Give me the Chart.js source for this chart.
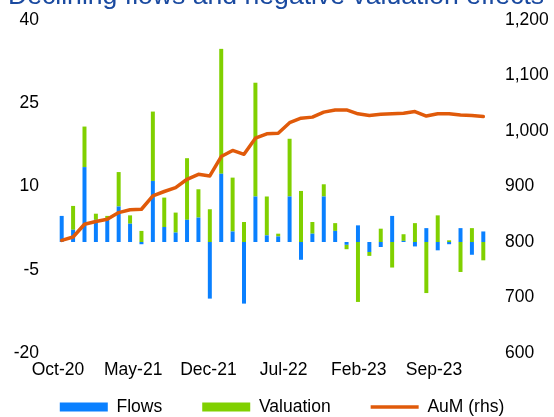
<!DOCTYPE html>
<html>
<head>
<meta charset="utf-8">
<script src="https://cdn.jsdelivr.net/npm/chart.js@4/dist/chart.umd.min.js"></script>
<style>
  html, body { margin: 0; padding: 0; background: #ffffff; }
  #wrap { position: relative; width: 554px; height: 417px; overflow: hidden; }
</style>
</head>
<body>
<div id="wrap"><canvas id="c"></canvas></div>
<script>
const chartTitle = "Declining flows and negative valuation effects";

const months = [
  "Oct-20","Nov-20","Dec-20","Jan-21","Feb-21","Mar-21","Apr-21","May-21","Jun-21","Jul-21",
  "Aug-21","Sep-21","Oct-21","Nov-21","Dec-21","Jan-22","Feb-22","Mar-22","Apr-22","May-22",
  "Jun-22","Jul-22","Aug-22","Sep-22","Oct-22","Nov-22","Dec-22","Jan-23","Feb-23","Mar-23",
  "Apr-23","May-23","Jun-23","Jul-23","Aug-23","Sep-23","Oct-23","Nov-23"
];

const flows = [
  4.7, 2.2, 13.5, 4.0, 4.0, 6.4, 3.3, -0.4, 11.0, 2.7,
  1.7, 4.0, 4.4, -10.2, 12.3, 1.9, -11.1, 8.2, 1.2, 1.0,
  8.2, -3.2, 1.5, 8.2, 2.0, -0.5, 3.0, -1.8, -0.9, 4.7,
  0.2, -0.8, 2.5, -1.5, -0.4, 2.5, -2.3, 1.9
];

const valuation = [
  0.0, 4.3, 7.3, 1.1, 0.7, 6.2, 1.5, 2.0, 12.5, 5.3,
  3.6, 11.1, 5.1, 5.9, 22.5, 9.7, 3.6, 20.5, 7.0, 0.5,
  10.4, 9.2, 2.1, 2.2, 1.4, -0.8, -10.8, -0.7, 2.4, -4.6,
  1.2, 3.4, -9.2, 4.8, 0.3, -5.4, 2.5, -3.3
];

const aum = [
  803, 809, 832, 837, 841, 853, 858, 859, 883, 891,
  898, 913, 922, 919, 954, 965, 958, 987, 995, 996,
  1015, 1023, 1025, 1034, 1038, 1038, 1031, 1028, 1030, 1031,
  1032, 1035, 1027, 1031, 1031, 1029, 1028, 1026
];

const xTickLabels = ["Oct-20", "May-21", "Dec-21", "Jul-22", "Feb-23", "Sep-23"];
const seriesNames = ["Flows", "Valuation", "AuM (rhs)"];

const FONT = "'Liberation Sans', Arial, sans-serif";
const FS = 17.5;

const titlePlugin = {
  id: 'cutTitle',
  afterDraw(chart) {
    const ctx = chart.ctx;
    ctx.save();
    ctx.font = "26.6px " + FONT;
    ctx.fillStyle = "#1a4aa0";
    ctx.textAlign = "left";
    ctx.textBaseline = "alphabetic";
    ctx.fillText(chartTitle, 8, 4);
    ctx.restore();
  }
};

function noPad(axis) {
  axis.paddingTop = 0;
  axis.paddingBottom = 0;
  axis.paddingLeft = 0;
  axis.paddingRight = 0;
}

new Chart(document.getElementById('c'), {
  type: 'bar',
  data: {
    labels: months,
    datasets: [
      {
        label: seriesNames[0],
        data: flows,
        backgroundColor: '#0a80ff',
        borderWidth: 0,
        xAxisID: 'x', yAxisID: 'y',
        barPercentage: 0.35, categoryPercentage: 1.0,
        pointStyle: 'rect',
        order: 1
      },
      {
        label: seriesNames[1],
        data: valuation,
        backgroundColor: '#80d000',
        borderWidth: 0,
        xAxisID: 'x', yAxisID: 'y',
        barPercentage: 0.35, categoryPercentage: 1.0,
        pointStyle: 'rect',
        order: 1
      },
      {
        type: 'line',
        label: seriesNames[2],
        data: aum,
        borderColor: '#e05a0a',
        backgroundColor: '#e05a0a',
        borderWidth: 3.5,
        borderCapStyle: 'round',
        borderJoinStyle: 'round',
        tension: 0,
        pointRadius: 0,
        pointHoverRadius: 0,
        pointStyle: 'line',
        xAxisID: 'x', yAxisID: 'y2',
        order: 0
      }
    ]
  },
  options: {
    responsive: true,
    maintainAspectRatio: false,
    animation: false,
    layout: { padding: { left: 10, right: 0, top: 20, bottom: -8.75 } },
    plugins: {
      title: { display: false },
      tooltip: { enabled: false },
      legend: {
        display: true,
        position: 'bottom',
        align: 'center',
        labels: {
          usePointStyle: true,
          pointStyleWidth: 48,
          boxHeight: 9,
          padding: 40,
          color: '#000000',
          font: { family: FONT, size: FS },
          sort: (a, b) => a.datasetIndex - b.datasetIndex
        }
      }
    },
    scales: {
      x: {
        type: 'category',
        display: false,
        stacked: true,
        offset: true,
        grid: { display: false }
      },
      x2: {
        type: 'linear',
        axis: 'x',
        display: true,
        position: 'bottom',
        offset: false,
        min: -0.0266,
        max: 5.731,
        grid: { display: false, drawTicks: false, offset: false },
        border: { display: false },
        afterBuildTicks: (axis) => { axis.ticks = xTickLabels.map((l, i) => ({ value: i })); },
        afterFit: (axis) => { axis.height = 5.25; noPad(axis); },
        ticks: {
          display: true,
          autoSkip: false,
          maxRotation: 0,
          mirror: true,
          padding: -27.5,
          color: '#000000',
          font: { family: FONT, size: FS },
          callback: (v) => xTickLabels[Math.round(v)]
        }
      },
      y: {
        position: 'left',
        stacked: true,
        min: -20,
        max: 40,
        grid: { display: false, drawTicks: false },
        border: { display: false },
        afterFit: (axis) => { axis.width = 46; noPad(axis); },
        ticks: {
          stepSize: 15,
          padding: 17,
          color: '#000000',
          font: { family: FONT, size: FS }
        }
      },
      y2: {
        position: 'right',
        min: 600,
        max: 1200,
        grid: { display: false, drawTicks: false },
        border: { display: false },
        afterFit: (axis) => { axis.width = 65; noPad(axis); },
        ticks: {
          stepSize: 100,
          padding: 16,
          color: '#000000',
          font: { family: FONT, size: FS },
          callback: (v) => v.toLocaleString('en-US')
        }
      }
    }
  },
  plugins: [titlePlugin]
});
</script>
</body>
</html>
